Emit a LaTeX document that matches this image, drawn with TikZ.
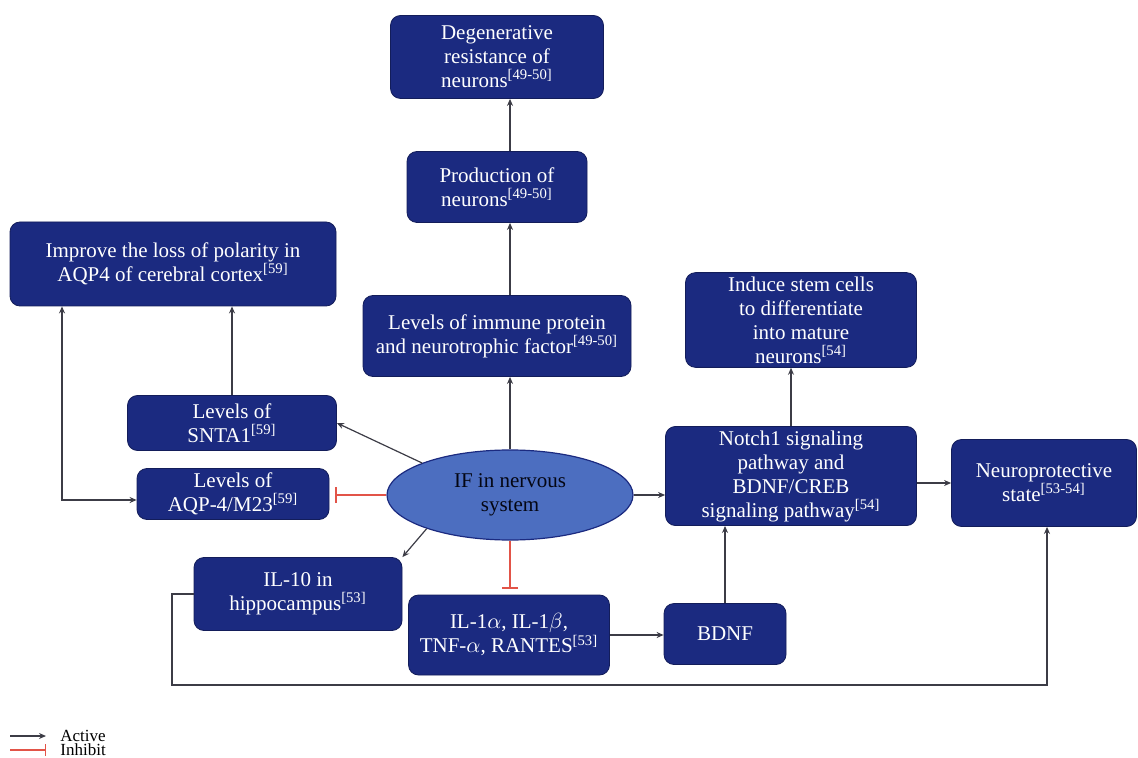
\documentclass[tikz,border=0pt]{standalone}
\usepackage{fontspec}
\setmainfont{Liberation Serif}
\usetikzlibrary{arrows.meta, shapes.geometric}
\definecolor{navy}{RGB}{27,42,128}
\definecolor{ellblue}{RGB}{76,110,192}
\definecolor{inhred}{RGB}{226,84,72}
\definecolor{lineg}{RGB}{60,60,70}

\begin{document}
\begin{tikzpicture}[x=0.5pt, y=-0.5pt,
  box/.style={draw=navy!70!black, fill=navy, rounded corners=5pt, text=white, align=center,
    font=\fontsize{10.5}{12}\selectfont, inner sep=2pt},
  act/.style={draw=lineg, line width=0.6pt, -{Stealth[length=3.5pt,width=3pt]}},
  actb/.style={draw=lineg, line width=0.6pt, {Stealth[length=3.5pt,width=3pt]}-{Stealth[length=3.5pt,width=3pt]}},
  inh/.style={draw=inhred, line width=0.6pt, -{Bar[width=8pt]}}]
\useasboundingbox (0,0) rectangle (1138,758);
% centre column
\node[box, minimum width=106.5pt, minimum height=41.5pt] (degen) at (497,57) {Degenerative\\resistance of\\neurons\textsuperscript{[49-50]}};
\node[box, minimum width=90pt, minimum height=35.5pt] (prod) at (497,187) {Production of\\neurons\textsuperscript{[49-50]}};
\node[box, minimum width=134pt, minimum height=40.5pt] (imm) at (497,336) {Levels of immune protein\\and neurotrophic factor\textsuperscript{[49-50]}};
\node[ellipse, draw=navy, line width=0.6pt, fill=ellblue, minimum width=123pt, minimum height=45pt,
  align=center, font=\fontsize{10.5}{12}\selectfont, text=black!85!navy] (ifn) at (510,495) {IF in nervous\\system};
% left side
\node[box, minimum width=163pt, minimum height=42pt] (impr) at (173,264) {Improve the loss of polarity in\\AQP4 of cerebral cortex\textsuperscript{[59]}};
\node[box, minimum width=104.5pt, minimum height=27.5pt] (snta) at (232,423) {Levels of\\SNTA1\textsuperscript{[59]}};
\node[box, minimum width=96pt, minimum height=25.5pt] (aqp) at (233,494) {Levels of\\AQP-4/M23\textsuperscript{[59]}};
\node[box, minimum width=104pt, minimum height=36.5pt] (il10) at (298,594) {IL-10 in\\hippocampus\textsuperscript{[53]}};
\node[box, minimum width=100.5pt, minimum height=40pt] (il1) at (509,635) {IL-1$\alpha$, IL-1$\beta$,\\TNF-$\alpha$, RANTES\textsuperscript{[53]}};
% right side
\node[box, minimum width=61pt, minimum height=30.5pt] (bdnf) at (725,634) {BDNF};
\node[box, minimum width=125.5pt, minimum height=46pt] (notch) at (791,476) {Notch1 signaling\\pathway and\\BDNF/CREB\\signaling pathway\textsuperscript{[54]}};
\node[box, minimum width=115.5pt, minimum height=47pt] (induce) at (801,320) {Induce stem cells\\to differentiate\\into mature\\neurons\textsuperscript{[54]}};
\node[box, minimum width=92.5pt, minimum height=43.5pt] (neuro) at (1044,483) {Neuroprotective\\state\textsuperscript{[53-54]}};

% connectors
\draw[act] (ifn.north) -- (ifn.north |- imm.south);
\draw[act] (ifn.north |- imm.north) -- (ifn.north |- prod.south);
\draw[act] (ifn.north |- prod.north) -- (ifn.north |- degen.south);
\draw[act] (ifn.160) -- (snta.east);
\draw[inh, shorten >=3pt] (ifn.west) -- (ifn.west -| aqp.east);
\draw[act] (ifn.202) -- (il10.north east);
\draw[inh] (ifn.south) -- ([yshift=3pt]ifn.south |- il1.north);
\draw[act] (ifn.east) -- (ifn.east -| notch.west);
\draw[act] (snta.north) -- (snta.north |- impr.south);
\coordinate (lft) at (62,500);
\draw[actb] (aqp.west |- lft) -- (lft) -- (lft |- impr.south);
\draw[act] (il1.east) -- (il1.east -| bdnf.west);
\draw[act] (bdnf.north) -- (bdnf.north |- notch.south);
\draw[act] (notch.north) -- (notch.north |- induce.south);
\draw[act] (notch.east |- neuro.west) -- (neuro.west);
\coordinate (fb1) at (172,685);
\coordinate (fb2) at (1047,685);
\draw[act] (il10.west) -| (fb1) -- (fb2) -- (fb2 |- neuro.south);

% legend
\coordinate (la0) at (10,736);
\coordinate (la1) at (46,736);
\draw[act] (la0) -- (la1);
\node[anchor=west, font=\fontsize{8.5}{9}\selectfont, inner sep=1pt] (lact) at (58,736) {Active};
\coordinate (li0) at (10,750);
\coordinate (li1) at (46,750);
\draw[inh, -{Bar[width=6pt]}] (li0) -- (li1);
\node[anchor=west, font=\fontsize{8.5}{9}\selectfont, inner sep=1pt] (linh) at (58,750) {Inhibit};
\end{tikzpicture}
\end{document}
